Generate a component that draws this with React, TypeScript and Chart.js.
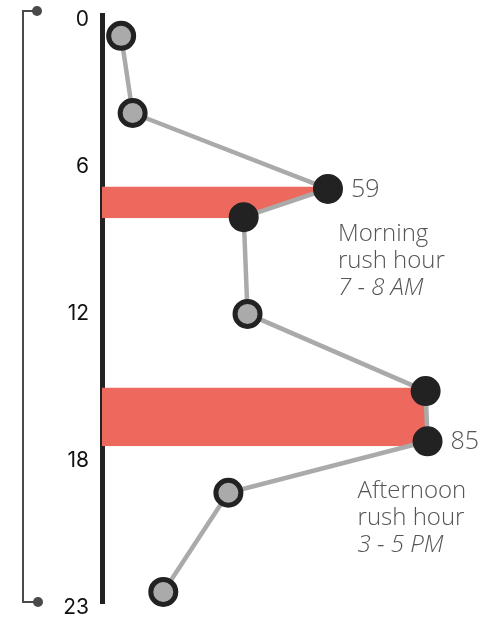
import { useEffect, useRef } from "react";
import { Chart, registerables } from "chart.js";

Chart.register(...registerables);

// Hour of day (vertical axis) and number of trips (horizontal value)
const hours = [0.85, 4, 7.1, 8.25, 12.2, 15.35, 17.4, 19.5, 23.55];
const trips = [5, 8, 59, 37, 38, 84.5, 85, 33, 16];
const rushFlags = [false, false, true, true, false, true, true, false, false];

const morningBandHours = [7, 8.3];
const morningBandTrips = [59, 37];
const afternoonBandHours = [15.2, 17.6];
const afternoonBandTrips = [84.5, 85];

const yTicks = [0, 6, 12, 18, 24];
const yTickLabels = ["0", "6", "12", "18", "23"];

const morningNote = ["Morning", "rush hour", "7 - 8 AM"];
const afternoonNote = ["Afternoon", "rush hour", "3 - 5 PM"];

const RED = "#ED695E";
const GRAY = "#AAAAAA";
const DARK = "#222222";

const notesPlugin = {
  id: "notes",
  afterDatasetsDraw(chart: any) {
    const ctx = chart.ctx;
    const meta = chart.getDatasetMeta(2);
    const pM = meta.data[2];
    const pA = meta.data[6];
    ctx.save();
    ctx.fillStyle = "#555555";
    ctx.textAlign = "left";
    ctx.textBaseline = "middle";
    ctx.font = "300 25px 'Open Sans'";
    ctx.fillText(String(trips[2]), pM.x + 23, pM.y + 1);
    ctx.fillText(String(trips[6]), pA.x + 23, pA.y + 1);
    const drawNote = (lines: string[], x: number, y: number) => {
      lines.forEach((t, i) => {
        ctx.font = (i === 2 ? "italic " : "") + "300 24px 'Open Sans'";
        ctx.fillText(t, x, y + i * 27);
      });
    };
    drawNote(morningNote, pM.x + 10, pM.y + 45);
    drawNote(afternoonNote, pA.x - 70, pA.y + 50);
    ctx.restore();
  },
};

const bracketPlugin = {
  id: "bracket",
  afterDraw(chart: any) {
    const ctx = chart.ctx;
    const { top, bottom } = chart.chartArea;
    const x = 23;
    const t = top - 4;
    const b = bottom - 1;
    ctx.save();
    ctx.strokeStyle = "#4A4A4A";
    ctx.lineWidth = 2;
    ctx.beginPath();
    ctx.moveTo(37, t);
    ctx.lineTo(x, t);
    ctx.lineTo(x, b);
    ctx.lineTo(38, b);
    ctx.stroke();
    ctx.fillStyle = "#4A4A4A";
    ctx.beginPath();
    ctx.arc(37, t, 5, 0, Math.PI * 2);
    ctx.fill();
    ctx.beginPath();
    ctx.arc(38, b, 5, 0, Math.PI * 2);
    ctx.fill();
    ctx.restore();
  },
};

export default function App() {
  const ref = useRef<HTMLCanvasElement | null>(null);

  useEffect(() => {
    if (!ref.current) return;
    const band = (h: number[], v: number[]) =>
      h.map((hh, i) => ({ x: v[i], y: hh }));
    const chart = new Chart(ref.current, {
      type: "line",
      data: {
        datasets: [
          {
            data: band(morningBandHours, morningBandTrips),
            fill: "origin",
            backgroundColor: RED,
            borderColor: "rgba(0,0,0,0)",
            borderWidth: 0,
            pointRadius: 0,
            order: 2,
          } as any,
          {
            data: band(afternoonBandHours, afternoonBandTrips),
            fill: "origin",
            backgroundColor: RED,
            borderColor: "rgba(0,0,0,0)",
            borderWidth: 0,
            pointRadius: 0,
            order: 2,
          } as any,
          {
            data: hours.map((h, i) => ({ x: trips[i], y: h })),
            fill: false,
            borderColor: GRAY,
            borderWidth: 4.5,
            pointRadius: 12.5,
            pointBorderWidth: 5,
            pointBorderColor: DARK,
            pointBackgroundColor: rushFlags.map((r) => (r ? DARK : GRAY)),
            tension: 0,
            order: 0,
            clip: false,
          } as any,
        ],
      },
      options: {
        indexAxis: "y",
        responsive: false,
        animation: false,
        events: [],
        layout: { autoPadding: false, padding: { top: 15, bottom: 17, left: 0, right: 8 } },
        plugins: {
          legend: { display: false },
          tooltip: { enabled: false },
        },
        scales: {
          x: {
            type: "linear",
            min: 0,
            max: 100,
            display: false,
          },
          y: {
            type: "linear",
            reverse: true,
            min: 0,
            max: 24,
            afterBuildTicks: (scale: any) => {
              scale.ticks = yTicks.map((v) => ({ value: v }));
            },
            afterFit: (scale: any) => {
              scale.width = 102;
              scale.paddingTop = 0;
              scale.paddingBottom = 0;
            },
            grid: { display: false, drawTicks: false },
            border: { display: true, color: DARK, width: 5 },
            ticks: {
              padding: 13,
              labelOffset: 5,
              color: "#111111",
              font: { family: "Inter", size: 21, weight: "400" },
              callback: (_v: any, i: number) => yTickLabels[i],
            },
          },
        },
      } as any,
      plugins: [notesPlugin, bracketPlugin],
    });
    return () => chart.destroy();
  }, []);

  return (
    <div style={{ position: "fixed", left: 0, top: 0, width: 493, height: 620, background: "#fff" }}>
      <canvas ref={ref} width={493} height={620} style={{ width: 493, height: 620, display: "block" }} />
    </div>
  );
}
